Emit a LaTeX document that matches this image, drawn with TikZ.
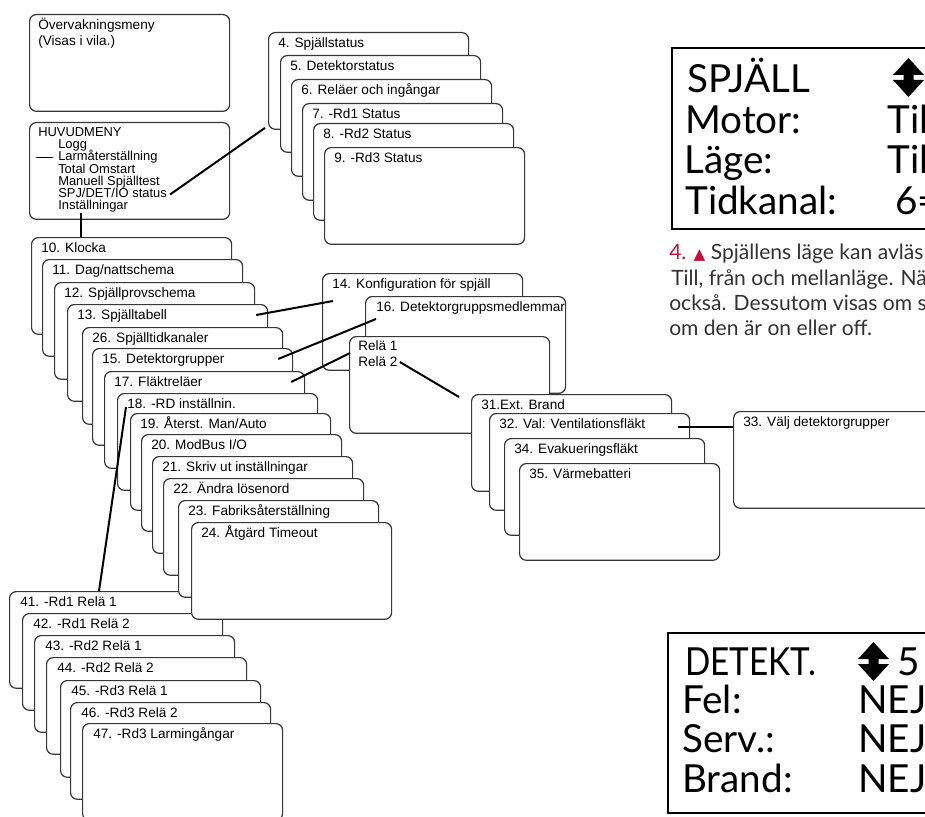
\documentclass[tikz,border=0pt]{standalone}
\usepackage{fontspec}
\setmainfont{Liberation Sans}
\newfontfamily\lcdfont{Lato}
\newfontfamily\symfont{DejaVu Sans}
\usepackage{tikz}
\usetikzlibrary{calc, positioning}
\usepackage{xcolor}
\definecolor{boxLine}{RGB}{55, 55, 55}
\definecolor{noteRed}{RGB}{200, 16, 60}
\definecolor{noteText}{RGB}{50, 50, 50}

\tikzset{
  menubox/.style={draw=boxLine, line width=0.9pt, fill=white, rounded corners=5pt,
    minimum width=150pt, minimum height=72.5pt, inner sep=0pt, anchor=north west},
  boxtext/.style={anchor=base west, inner sep=0pt, font=\fontsize{10.2}{12}\selectfont},
  menuitem/.style={boxtext, font=\fontsize{9.7}{11}\selectfont},
  link/.style={line width=1.5pt},
  lcd/.style={line width=1.9pt},
  lcdtext/.style={anchor=base west, inner sep=0pt, font=\lcdfont\fontsize{29}{32}\selectfont},
  notetext/.style={anchor=base west, inner sep=0pt, text=noteText,
    font=\lcdfont\fontsize{15.8}{19}\selectfont},
  scrollarrows/.pic={
    \fill (15.5,0) -- (31,17) -- (20.5,17) -- (20.5,22) -- (31,22) -- (15.5,39)
      -- (0,22) -- (10.5,22) -- (10.5,17) -- (0,17) -- cycle;
  },
}

\begin{document}
\begin{tikzpicture}[x=0.75pt, y=-0.75pt]
  \useasboundingbox (0,0) rectangle (925,817);
  \clip (0,0) rectangle (925,817);
  \fill[white] (0,0) rectangle (925,817);

  % Idle view and main menu
  \node[menubox] (idle) at (29,14) {};
  \node[boxtext] (idleA) at ($(idle.north west)+(9,16)$) {Övervakningsmeny};
  \node[boxtext] (idleB) at ($(idle.north west)+(9,32)$) {(Visas i vila.)};

  \node[menubox] (huvud) at (29,122) {};
  \node[menuitem] (huvudA) at ($(huvud.north west)+(9,14.5)$) {HUVUDMENY};
  \foreach \nm/\txt [count=\i] in {logg/Logg, larm/Larmåterställning, omstart/Total Omstart,
      manuell/Manuell Spjälltest, spjdet/{SPJ/DET/IO status}, inst/Inställningar}
    \node[menuitem] (\nm) at ($(huvud.north west)+(29,14.5+12.2*\i)$) {\txt};

  % Status screens
  \foreach \n/\x/\y/\txt in {4/268/32/{4. Spjällstatus}, 5/280/55/{5. Detektorstatus},
      6/291/79/{6. Reläer och ingångar}, 7/302/103/{7. -Rd1 Status},
      8/313/123/{8. -Rd2 Status}, 9/324/147/{9. -Rd3 Status}}{
    \node[menubox] (m\n) at (\x,\y) {};
    \node[boxtext] (t\n) at ($(m\n.north west)+(10,15.5)$) {\txt};
  }

  % Relay screens (under the settings stack)
  \foreach \n/\x/\y/\txt in {41/9/591/{41. -Rd1 Relä 1}, 42/22/613/{42. -Rd1 Relä 2},
      43/34/635/{43. -Rd2 Relä 1}, 44/46/657/{44. -Rd2 Relä 2},
      45/60/680/{45. -Rd3 Relä 1}, 46/70/702/{46. -Rd3 Relä 2},
      47/82/723/{47. -Rd3 Larmingångar}}{
    \node[menubox] (m\n) at (\x,\y) {};
    \node[boxtext] (t\n) at ($(m\n.north west)+(11,15)$) {\txt};
  }

  % Settings stack
  \foreach \n/\x/\y/\txt in {10/31/237/{10. Klocka}, 11/42/259/{11. Dag/nattschema},
      12/54/282/{12. Spjällprovschema}, 13/67/304/{13. Spjälltabell},
      26/82/327/{26. Spjälltidkanaler}, 15/92/348/{15. Detektorgrupper},
      17/104/371/{17. Fläktreläer}, 18/117/393/{18. -RD inställnin.},
      19/130/413/{19. Återst. Man/Auto}, 20/141/434/{20. ModBus I/O},
      21/152/456/{21. Skriv ut inställningar}, 22/163/478/{22. Ändra lösenord},
      23/178/500/{23. Fabriksåterställning}, 24/191/522/{24. Åtgärd Timeout}}{
    \node[menubox] (m\n) at (\x,\y) {};
    \node[boxtext] (t\n) at ($(m\n.north west)+(10,15.5)$) {\txt};
  }

  % Damper / detector / fan screens
  \node[menubox] (m14) at (322,273) {};
  \node[boxtext] (t14) at ($(m14.north west)+(10,15.5)$) {14. Konfiguration för spjäll};
  \node[menubox] (m16) at (365,296) {};
  \node[boxtext] (t16) at ($(m16.north west)+(11,15.5)$) {16. Detektorgruppsmedlemmar};
  \node[menubox] (relais) at (349,336) {};
  \node[boxtext] (rel1) at ($(relais.north west)+(9,14.5)$) {Relä 1};
  \node[boxtext] (rel2) at ($(relais.north west)+(9,30)$) {Relä 2};

  \foreach \n/\x/\y/\txt in {31/471/394/{31.Ext. Brand}, 32/489/413/{32. Val: Ventilationsfläkt},
      34/504/438/{34. Evakueringsfläkt}, 35/519/463/{35. Värmebatteri},
      33/733/411/{33. Välj detektorgrupper}}{
    \node[menubox] (m\n) at (\x,\y) {};
    \node[boxtext] (t\n) at ($(m\n.north west)+(10,15.5)$) {\txt};
  }

  % Connectors
  \draw[line width=1pt] ($(larm.base west)+(-22,-3.5)$) -- ($(larm.base west)+(-5,-3.5)$);
  \draw[link] ($(spjdet.base east)+(3,-3)$) -- ($(m4.south west)+(-3,-2)$);
  \draw[link] ($(inst.base west)+(23,3)$) -- ($(m10.north west)+(50,0)$);
  \draw[link] ($(m13.north east)+(-12,11)$) -- ($(m14.north west)+(11,28)$);
  \draw[link] ($(m15.north east)+(-15,11)$) -- ($(m16.north west)+(11,23)$);
  \draw[link] ($(m17.north east)+(-14,11)$) -- ($(relais.north west)+(1,17)$);
  \draw[link] ($(rel2.base east)+(2,-4)$) -- ($(m31.north west)+(-12,3)$);
  \draw[link] ($(m32.north east)+(-12,14)$) -- ($(m33.north west)+(0,16)$);
  \draw[link] ($(m18.north west)+(9,14)$) -- ($(m41.north west)+(90,0)$);

  % Display: damper
  \draw[lcd] (672,48) rectangle (945,229);
  \node[lcdtext] (spjA) at (687,93) {SPJÄLL};
  \node[lcdtext] (spjB) at (685,133) {Motor:};
  \node[lcdtext] (spjC) at (684,173) {Läge:};
  \node[lcdtext] (spjD) at (685,214) {Tidkanal:};
  \pic at (893,58) {scrollarrows};
  \node[lcdtext] (spjE) at (887,133) {Til};
  \node[lcdtext] (spjF) at (887,173) {Til};
  \node[lcdtext] (spjG) at (895,214) {6=};

  % Note text
  \node[notetext] (noteA) at (669,259)
    {\textcolor{noteRed}{4. {\symfont\fontsize{11.5}{14}\selectfont ▲}} Spjällens läge kan avläs};
  \node[notetext] (noteB) at (671,285) {Till, från och mellanläge. Nä};
  \node[notetext] (noteC) at (669,310) {också. Dessutom visas om s};
  \node[notetext] (noteD) at (669,335) {om den är on eller off.};

  % Display: detector
  \draw[lcd] (668,633) rectangle (945,813);
  \node[lcdtext] (detA) at (685,675) {\scalebox{0.86}[1]{DETEKT.}};
  \node[lcdtext] (detB) at (682,713) {Fel:};
  \node[lcdtext] (detC) at (682,752) {Serv.:};
  \node[lcdtext] (detD) at (682,792) {Brand:};
  \pic at (858,642) {scrollarrows};
  \node[lcdtext] (detE) at (897,675) {5};
  \node[lcdtext] (detF) at (858,713) {NEJ};
  \node[lcdtext] (detG) at (858,752) {NEJ};
  \node[lcdtext] (detH) at (858,792) {NEJ};
\end{tikzpicture}
\end{document}
